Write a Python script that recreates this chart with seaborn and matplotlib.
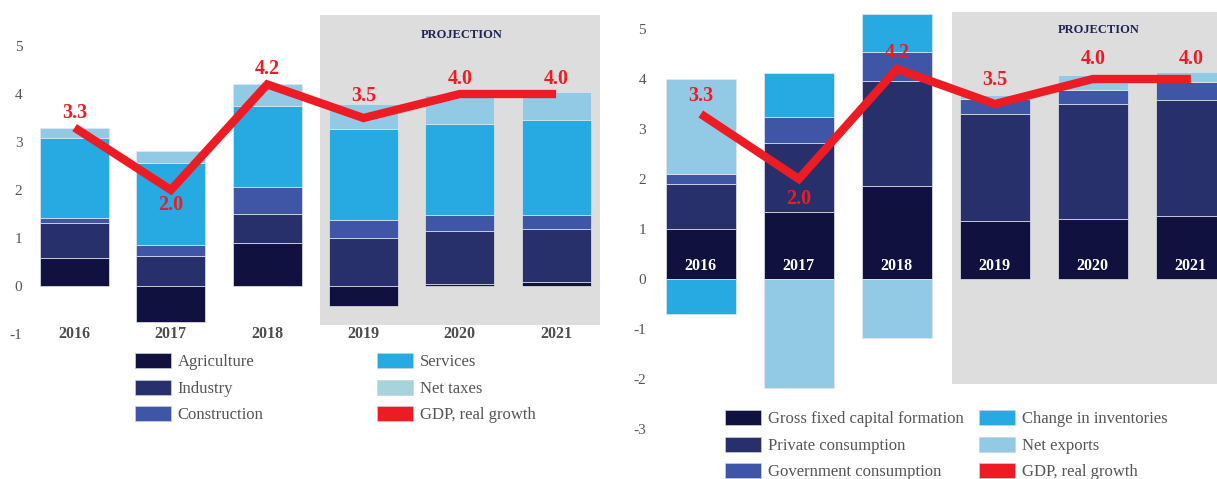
import numpy as np
import matplotlib
matplotlib.use("Agg")
import matplotlib.pyplot as plt
from matplotlib.patches import Rectangle, Patch
import seaborn as sns

# ---------------- data ----------------
years = ["2016", "2017", "2018", "2019", "2020", "2021"]

# left chart: production side contributions (pp)
agriculture = [0.58, -0.76, 0.90, -0.42, 0.05, 0.08]
industry = [0.73, 0.63, 0.60, 1.01, 1.10, 1.10]
construction = [0.10, 0.22, 0.56, 0.37, 0.32, 0.29]
services = [1.67, 1.71, 1.68, 1.90, 1.90, 1.99]
net_taxes = [0.22, 0.26, 0.46, 0.52, 0.61, 0.59]

# right chart: expenditure side contributions (pp)
gfcf = [1.00, 1.35, 1.86, 1.16, 1.21, 1.26]
private_cons = [0.91, 1.38, 2.11, 2.14, 2.29, 2.32]
gov_cons = [0.20, 0.52, 0.58, 0.30, 0.29, 0.37]
inventories = [-0.70, 0.88, 0.74, 0.00, 0.00, 0.00]
net_exports = [1.89, -2.18, -1.18, 0.09, 0.30, 0.18]

gdp = [3.3, 2.0, 4.2, 3.5, 4.0, 4.0]

left_labels = ["Agriculture", "Industry", "Construction", "Services", "Net taxes", "GDP, real growth"]
right_labels = ["Gross fixed capital formation", "Private consumption", "Government consumption",
                "Change in inventories", "Net exports", "GDP, real growth"]

# ---------------- style ----------------
C_AGR = "#111140"
C_IND = "#28306c"
C_CON = "#3e56a5"
C_SER = "#27aae1"
C_NTX = "#92c9e4"
C_NTX_LEG = "#a7d3db"
C_RED = "#ed1c24"
C_GRAY = "#dddddd"
TXT = "#555555"

sns.set_theme(style="white")
plt.rcParams["font.family"] = ["Liberation Serif", "DejaVu Serif"]
plt.rcParams["axes.unicode_minus"] = False

W, H = 1217, 479
fig = plt.figure(figsize=(W / 100, H / 100), dpi=100)
axL = fig.add_axes([28 / W, 1 - 345 / H, 572 / W, 335 / H])
axR = fig.add_axes([652 / W, 1 - 440 / H, 565 / W, 432 / H])

BAR_W = 0.715


def stacked(ax, series, colors):
    n = len(years)
    pos = np.zeros(n)
    neg = np.zeros(n)
    for vals, color in zip(series, colors):
        v = np.asarray(vals, dtype=float)
        bottom = np.where(v >= 0, pos, neg)
        sns.barplot(x=years, y=v, bottom=bottom, order=years, color=color, saturation=1,
                    width=BAR_W, errorbar=None, edgecolor="#e3e6ef", linewidth=0.5, ax=ax)
        pos = pos + np.where(v >= 0, v, 0)
        neg = neg + np.where(v < 0, v, 0)


def finish(ax, xlim, ylim, pad):
    ax.set_xlim(*xlim)
    ax.set_ylim(*ylim)
    for s in ax.spines.values():
        s.set_visible(False)
    ax.set_xticks([])
    ax.set_xlabel("")
    ax.set_ylabel("")
    ticks = list(range(int(np.ceil(ylim[0])), int(np.floor(ylim[1])) + 1))
    ax.set_yticks(ticks)
    ax.set_yticklabels([str(t) for t in ticks])
    ax.tick_params(axis="y", length=0, pad=pad, labelsize=11, labelcolor=TXT)
    ax.grid(False)
    ax.set_facecolor("white")


def gdp_line(ax, offsets):
    sns.lineplot(x=np.arange(len(years)), y=gdp, color=C_RED, linewidth=6, legend=False,
                 solid_joinstyle="miter", solid_capstyle="butt", ax=ax, zorder=5)
    for i, (v, off) in enumerate(zip(gdp, offsets)):
        ax.annotate(f"{v:.1f}", (i, v), xytext=(0, off), textcoords="offset pixels",
                    ha="center", va="center", color=C_RED, fontsize=14.5,
                    fontweight="bold", zorder=6)


# ---------------- left chart ----------------
axL.add_patch(Rectangle((2.55, -0.81), 10, 6.46, facecolor=C_GRAY, edgecolor="none", zorder=0))
stacked(axL, [agriculture, industry, construction, services, net_taxes],
        [C_AGR, C_IND, C_CON, C_SER, C_NTX])
gdp_line(axL, [15, -15, 15, 22, 15, 15])
for i, y in enumerate(years):
    axL.text(i, -1.0, y, ha="center", va="center", fontsize=11.5, fontweight="bold", color="#4d4d4d")
axL.text(4.02, 5.23, "PROJECTION", ha="center", va="center", fontsize=9,
         fontweight="bold", color="#1f2354")
finish(axL, (-0.484, 5.456), (-1.229, 5.75), 4)

# ---------------- right chart ----------------
axR.add_patch(Rectangle((2.563, -2.1), 10, 7.44, facecolor=C_GRAY, edgecolor="none", zorder=0))
stacked(axR, [gfcf, private_cons, gov_cons, inventories, net_exports],
        [C_AGR, C_IND, C_CON, C_SER, C_NTX])
gdp_line(axR, [18, -20, 16, 24, 20, 20])
for i, y in enumerate(years):
    axR.text(i, 0.27, y, ha="center", va="center", fontsize=11.5, fontweight="bold", color="white")
axR.text(4.063, 4.98, "PROJECTION", ha="center", va="center", fontsize=9,
         fontweight="bold", color="#1f2354")
finish(axR, (-0.498, 5.267), (-3.22, 5.42), 4.3)

# ---------------- legends ----------------
leg_kw = dict(loc="upper left", frameon=False, borderpad=0, borderaxespad=0,
              handlelength=2.15, handleheight=1.02, handletextpad=0.42, labelspacing=0.56,
              prop={"size": 12, "family": ["Liberation Serif"]}, labelcolor=TXT)

lcolors = [C_AGR, C_IND, C_CON, C_SER, C_NTX_LEG, C_RED]
rcolors = [C_AGR, C_IND, C_CON, C_SER, C_NTX, C_RED]
lh = [Patch(facecolor=c, edgecolor="#c8cfe0", linewidth=0.5) for c in lcolors]
rh = [Patch(facecolor=c, edgecolor="#c8cfe0", linewidth=0.5) for c in rcolors]

fig.legend(lh[:3], left_labels[:3], bbox_to_anchor=(135 / W, 1 - 353 / H), **leg_kw)
fig.legend(lh[3:], left_labels[3:], bbox_to_anchor=(377 / W, 1 - 353 / H), **leg_kw)
fig.legend(rh[:3], right_labels[:3], bbox_to_anchor=(725 / W, 1 - 410 / H), **leg_kw)
fig.legend(rh[3:], right_labels[3:], bbox_to_anchor=(979 / W, 1 - 410 / H), **leg_kw)

fig.savefig("out.png", dpi=100)
